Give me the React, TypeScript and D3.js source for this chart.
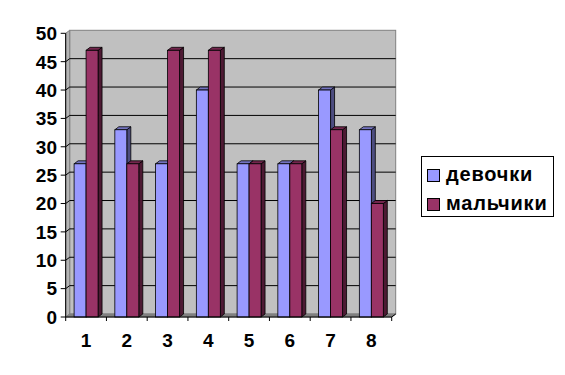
import * as d3 from "d3";
import { useEffect, useRef } from "react";

const categories = ["1", "2", "3", "4", "5", "6", "7", "8"];
const girls = [27, 33, 27, 40, 27, 27, 40, 33];
const boys = [47, 27, 47, 47, 27, 27, 33, 20];
const seriesNames = ["девочки", "мальчики"];
const yTicks = [0, 5, 10, 15, 20, 25, 30, 35, 40, 45, 50];

const seriesColors = [
  { front: "#9999ff", top: "#7373bf", side: "#4d4d80" },
  { front: "#993366", top: "#73264d", side: "#4d1a33" },
];

export default function App() {
  const ref = useRef<SVGSVGElement>(null);

  useEffect(() => {
    if (!ref.current) return;
    const width = 565;
    const height = 375;
    const font = "'Liberation Sans', Arial, sans-serif";
    const dx = 4;
    const dy = -3;

    const svg = d3.select(ref.current);
    svg.selectAll("*").remove();
    svg.attr("width", width).attr("height", height);

    const x = d3.scaleBand<string>().domain(categories).range([65.7, 391.7]);
    const xSub = d3
      .scaleBand<string>()
      .domain(seriesNames)
      .range([0, x.bandwidth()])
      .paddingInner(0)
      .paddingOuter(0.7);
    const y = d3.scaleLinear().domain([0, 50]).range([317, 33.3]);

    const x0 = x.range()[0];
    const x1 = x.range()[1];
    const yMin = y(0);
    const yMax = y(50);

    // walls and floor
    const walls = svg.append("g");
    walls
      .append("rect")
      .attr("x", x0 + dx)
      .attr("y", yMax + dy)
      .attr("width", x1 - x0)
      .attr("height", yMin - yMax)
      .attr("fill", "#c0c0c0")
      .attr("stroke", "#808080");
    walls
      .append("path")
      .attr(
        "d",
        `M${x0},${yMin}L${x0 + dx},${yMin + dy}L${x0 + dx},${yMax + dy}L${x0},${yMax}Z`,
      )
      .attr("fill", "#b4b4b4")
      .attr("stroke", "#808080");
    walls
      .append("path")
      .attr(
        "d",
        `M${x0},${yMin}L${x0 + dx},${yMin + dy}L${x1 + dx},${yMin + dy}L${x1},${yMin}Z`,
      )
      .attr("fill", "#808080")
      .attr("stroke", "#808080");

    // gridlines
    walls
      .selectAll("path.grid")
      .data(yTicks.filter((t) => t > 0 && t < 50))
      .enter()
      .append("path")
      .attr("class", "grid")
      .attr(
        "d",
        (t) => `M${x0},${y(t)}L${x0 + dx},${y(t) + dy}L${x1 + dx},${y(t) + dy}`,
      )
      .attr("fill", "none")
      .attr("stroke", "#000")
      .attr("stroke-width", 1);

    // bars
    const barW = xSub.bandwidth();
    const bars = svg.append("g").attr("stroke", "#000").attr("stroke-width", 0.8);
    categories.forEach((c, i) => {
      [girls[i], boys[i]].forEach((v, s) => {
        const bx = (x(c) ?? 0) + (xSub(seriesNames[s]) ?? 0);
        const by = y(v);
        const col = seriesColors[s];
        bars
          .append("path")
          .attr(
            "d",
            `M${bx + barW},${by}L${bx + barW + dx},${by + dy}L${bx + barW + dx},${yMin + dy}L${bx + barW},${yMin}Z`,
          )
          .attr("fill", col.side);
        bars
          .append("path")
          .attr(
            "d",
            `M${bx},${by}L${bx + dx},${by + dy}L${bx + barW + dx},${by + dy}L${bx + barW},${by}Z`,
          )
          .attr("fill", col.top);
        bars
          .append("rect")
          .attr("x", bx)
          .attr("y", by)
          .attr("width", barW)
          .attr("height", yMin - by)
          .attr("fill", col.front);
      });
    });

    // y axis
    const yAxis = svg.append("g");
    yAxis
      .append("line")
      .attr("x1", x0)
      .attr("x2", x0)
      .attr("y1", yMax)
      .attr("y2", yMin)
      .attr("stroke", "#000");
    yAxis
      .selectAll("line.tick")
      .data(yTicks)
      .enter()
      .append("line")
      .attr("class", "tick")
      .attr("x1", x0 - 5)
      .attr("x2", x0)
      .attr("y1", (t) => y(t))
      .attr("y2", (t) => y(t))
      .attr("stroke", "#000");
    yAxis
      .selectAll("text")
      .data(yTicks)
      .enter()
      .append("text")
      .attr("x", 57)
      .attr("y", (t) => y(t))
      .attr("dy", "0.36em")
      .attr("text-anchor", "end")
      .attr("font-family", font)
      .attr("font-weight", "bold")
      .attr("font-size", 19)
      .text((t) => t);

    // x axis
    const xAxis = svg.append("g");
    xAxis
      .append("line")
      .attr("x1", x0)
      .attr("x2", x1)
      .attr("y1", yMin)
      .attr("y2", yMin)
      .attr("stroke", "#000");
    xAxis
      .append("line")
      .attr("x1", x1)
      .attr("x2", x1 + dx)
      .attr("y1", yMin)
      .attr("y2", yMin + dy)
      .attr("stroke", "#000");
    xAxis
      .selectAll("line.tick")
      .data(categories.map((c) => x(c) ?? 0).concat([x1]))
      .enter()
      .append("line")
      .attr("class", "tick")
      .attr("x1", (d) => d)
      .attr("x2", (d) => d)
      .attr("y1", yMin)
      .attr("y2", yMin + 4)
      .attr("stroke", "#000");
    xAxis
      .selectAll("text")
      .data(categories)
      .enter()
      .append("text")
      .attr("x", (c) => (x(c) ?? 0) + x.bandwidth() / 2)
      .attr("y", 347)
      .attr("text-anchor", "middle")
      .attr("font-family", font)
      .attr("font-weight", "bold")
      .attr("font-size", 19)
      .text((c) => c);

    // legend
    const legend = svg.append("g");
    legend
      .append("rect")
      .attr("x", 421.5)
      .attr("y", 156.5)
      .attr("width", 132)
      .attr("height", 60)
      .attr("fill", "#fff")
      .attr("stroke", "#000");
    seriesNames.forEach((name, s) => {
      const ly = 169 + s * 29;
      legend
        .append("rect")
        .attr("x", 427.5)
        .attr("y", ly + 0.5)
        .attr("width", 12)
        .attr("height", 12)
        .attr("fill", seriesColors[s].front)
        .attr("stroke", "#000");
      legend
        .append("text")
        .attr("x", 446)
        .attr("y", ly + 12)
        .attr("font-family", font)
        .attr("font-weight", "bold")
        .attr("font-size", 20)
        .attr("letter-spacing", 0.8)
        .text(name);
    });
  }, []);

  return (
    <svg
      ref={ref}
      style={{ position: "absolute", left: 0, top: 0, background: "#fff" }}
    />
  );
}
